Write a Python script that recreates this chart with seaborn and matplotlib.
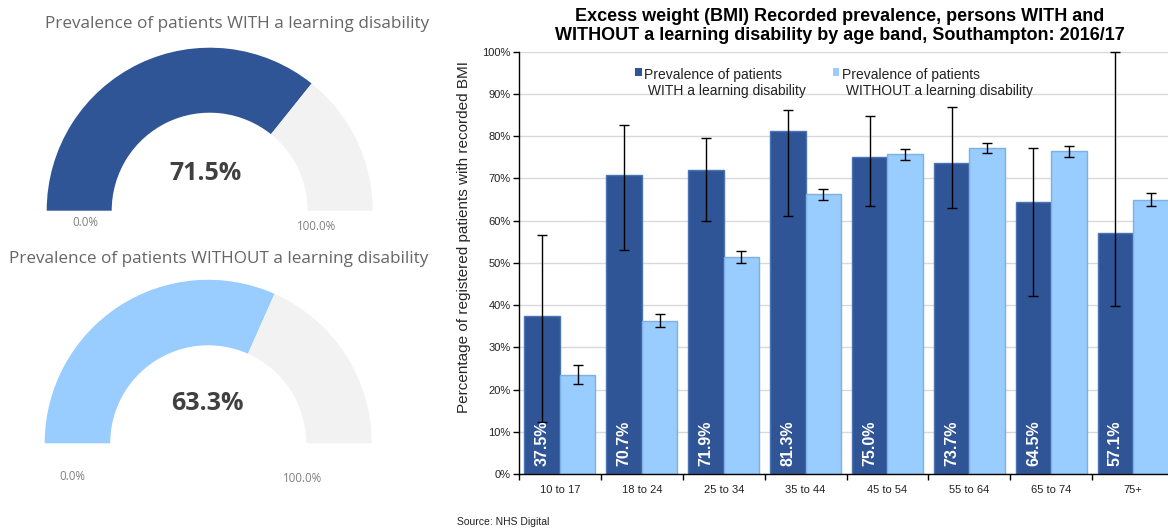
import numpy as np
import pandas as pd
import matplotlib
matplotlib.use("Agg")
import matplotlib.pyplot as plt
from matplotlib.patches import Wedge, Patch, Rectangle
from matplotlib.legend_handler import HandlerPatch
import seaborn as sns

# ---- data -------------------------------------------------------------
age_bands = ["10 to 17", "18 to 24", "25 to 34", "35 to 44",
             "45 to 54", "55 to 64", "65 to 74", "75+"]
groups = ["Prevalence of patients\n WITH a learning disability",
          "Prevalence of patients\n WITHOUT a learning disability"]

with_ld = [37.5, 70.7, 71.9, 81.3, 75.0, 73.7, 64.5, 57.1]
with_ld_lower = [12.4, 53.0, 60.0, 61.2, 63.5, 63.0, 42.1, 39.9]
with_ld_upper = [56.7, 82.7, 79.6, 86.1, 84.7, 86.9, 77.2, 100.0]

without_ld = [23.6, 36.3, 51.3, 66.2, 75.7, 77.2, 76.4, 64.9]
without_ld_lower = [21.3, 34.8, 50.0, 64.8, 74.4, 76.1, 75.1, 63.4]
without_ld_upper = [25.8, 37.8, 52.7, 67.4, 76.9, 78.3, 77.6, 66.5]

overall_with = 71.5
overall_without = 63.3

gauge_titles = ["Prevalence of patients WITH a learning disability",
                "Prevalence of patients WITHOUT a learning disability"]

title = ("Excess weight (BMI) Recorded prevalence, persons WITH and\n"
         "WITHOUT a learning disability by age band, Southampton: 2016/17")
ylabel = "Percentage of registered patients with recorded BMI"
source = "Source: NHS Digital"

# ---- style ------------------------------------------------------------
dark_blue = "#2F5597"
light_blue = "#99CCFF"
dark_edge = "#4A74B4"
light_edge = "#7FB0E0"
track_grey = "#F2F2F2"

sns.set_theme(style="white")
plt.rcParams["font.family"] = ["Liberation Sans", "DejaVu Sans"]

W, H = 1168, 530
fig = plt.figure(figsize=(W / 100, H / 100), dpi=100)

# ---- gauges (pixel coordinate overlay) --------------------------------
gax = fig.add_axes([0, 0, 1, 1])
gax.set_xlim(0, W)
gax.set_ylim(H, 0)
gax.axis("off")

gauge_font = ["Open Sans", "DejaVu Sans"]
gauges = [
    dict(value=overall_with, color=dark_blue, center=(209.7, 210.7), r=163.0,
         width=65.0, title_xy=(237, 24), value_xy=(206, 173),
         lo_xy=(85, 223), hi_xy=(317, 227)),
    dict(value=overall_without, color=light_blue, center=(208.2, 443.3), r=163.5,
         width=65.5, title_xy=(219, 259), value_xy=(207, 403),
         lo_xy=(72, 477), hi_xy=(303, 479)),
]
for g, gtitle in zip(gauges, gauge_titles):
    split = 180 + 180 * g["value"] / 100.0
    gax.add_patch(Wedge(g["center"], g["r"], 180, split, width=g["width"],
                        facecolor=g["color"], edgecolor="none"))
    gax.add_patch(Wedge(g["center"], g["r"], split, 360, width=g["width"],
                        facecolor=track_grey, edgecolor="none"))
    gax.text(*g["title_xy"], gtitle, ha="center", va="center",
             fontsize=12.3, color="#666666", family=gauge_font)
    gax.text(*g["value_xy"], f"{g['value']:.1f}%", ha="center", va="center",
             fontsize=18, fontweight="bold", color="#404040", family=gauge_font)
    gax.text(*g["lo_xy"], "0.0%", ha="center", va="center", fontsize=8.3,
             color="#808080", family=gauge_font)
    gax.text(*g["hi_xy"], "100.0%", ha="center", va="center", fontsize=8.3,
             color="#808080", family=gauge_font)

# ---- grouped bar chart ------------------------------------------------
df = pd.DataFrame({
    "age": age_bands * 2,
    "group": [groups[0]] * len(age_bands) + [groups[1]] * len(age_bands),
    "value": with_ld + without_ld,
})

ax = fig.add_axes([519 / W, (H - 474.3) / H, 655 / W, 422.8 / H])
sns.barplot(data=df, x="age", y="value", hue="group", order=age_bands,
            hue_order=groups, palette=[dark_blue, light_blue], saturation=1,
            width=0.868, errorbar=None, linewidth=1.0, ax=ax, zorder=2)

for cont, ec in zip(ax.containers, [dark_edge, light_edge]):
    for bar in cont:
        bar.set_edgecolor(ec)

ax.set_ylim(0, 100)
ax.set_xlim(-0.5, len(age_bands) - 0.5)
ax.set_yticks(np.arange(0, 101, 10))
ax.set_yticklabels([f"{v}%" for v in range(0, 101, 10)], fontsize=8, color="#222222")
ax.set_xticks(range(len(age_bands)))
ax.set_xticklabels(age_bands, fontsize=8, color="#222222")
ax.set_xticks(np.arange(-0.5, len(age_bands), 1.0), minor=True)
ax.tick_params(axis="x", which="major", length=0, pad=8)
ax.tick_params(axis="x", which="minor", length=4, width=1, color="black",
               direction="out", bottom=True)
ax.tick_params(axis="y", length=4, width=1, color="black", direction="out",
               left=True, pad=2)
ax.yaxis.grid(True, color="#D9D9D9", linewidth=1)
ax.set_axisbelow(True)
for side in ["top", "right"]:
    ax.spines[side].set_visible(False)
for side in ["left", "bottom"]:
    ax.spines[side].set_color("black")
    ax.spines[side].set_linewidth(1)

ax.set_xlabel("")
ax.set_ylabel(ylabel, fontsize=11, color="#262626")
ax.yaxis.set_label_coords(-0.073, 0.561)

# error bars and value labels
err_sets = [(with_ld, with_ld_lower, with_ld_upper),
            (without_ld, without_ld_lower, without_ld_upper)]
for cont, (vals, lo, hi) in zip(ax.containers, err_sets):
    xs = [b.get_x() + b.get_width() / 2 for b in cont]
    v = np.array(vals)
    eb = ax.errorbar(xs, v, yerr=[v - np.array(lo), np.array(hi) - v], fmt="none",
                     ecolor="black", elinewidth=1, capsize=3.5, capthick=1, zorder=3)
    for art in eb.lines[1] + eb.lines[2]:
        art.set_clip_on(False)

for bar, v in zip(ax.containers[0], with_ld):
    ax.text(bar.get_x() + bar.get_width() / 2, 2.0, f"{v:.1f}%", rotation=90,
            ha="center", va="bottom", color="white", fontsize=11.5,
            fontweight="bold", zorder=4)


# legend: square key sits beside the first line of each two-line label
def top_square(legend, orig_handle, xdescent, ydescent, width, height, fontsize):
    return Rectangle((-xdescent, -ydescent + 0.8 * fontsize), width, height)


handles = [Patch(facecolor=c, edgecolor="none") for c in (dark_blue, light_blue)]
leg = ax.legend(handles, groups, loc="upper left", bbox_to_anchor=(0.169, 0.975),
                ncol=2, frameon=False, fontsize=10, handlelength=0.45,
                handleheight=0.45, handletextpad=0.15, columnspacing=2.0,
                borderaxespad=0, handler_map={Patch: HandlerPatch(patch_func=top_square)})
for txt in leg.get_texts():
    txt.set_color("#222222")

fig.text(840 / W, 1 - 8 / H, title, ha="center", va="top", fontsize=13,
         fontweight="bold", linespacing=1.12, color="black")
fig.text(457 / W, 1 - 522 / H, source, ha="left", va="center", fontsize=7.5,
         color="#222222")

fig.savefig("out.png", dpi=100)
